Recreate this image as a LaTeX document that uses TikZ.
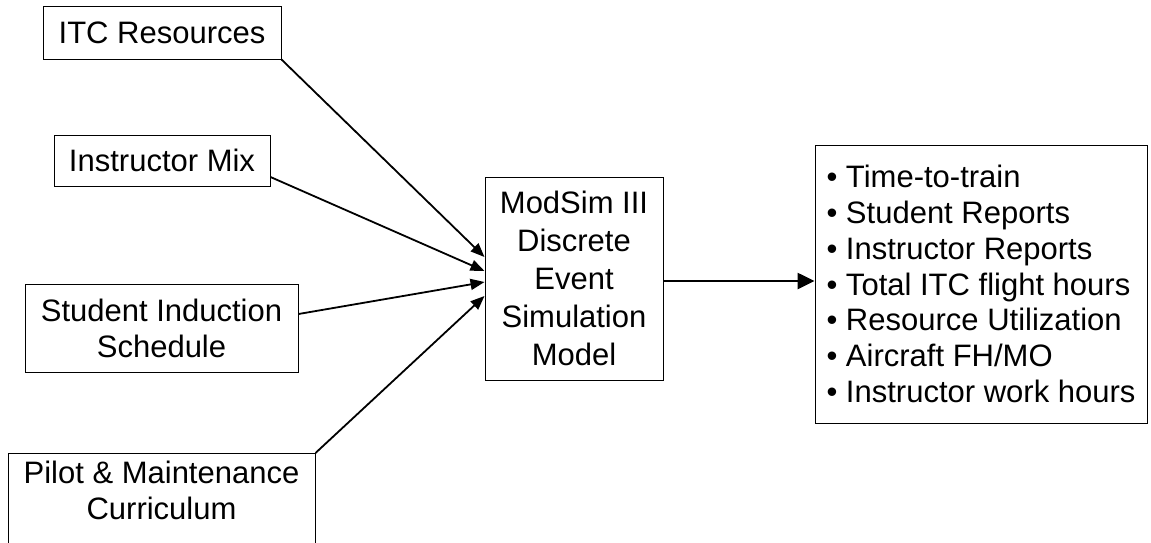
\documentclass[tikz,border=0pt]{standalone}
\usepackage{fontspec}
\setmainfont{Liberation Sans}
\usetikzlibrary{arrows.meta,calc}
\begin{document}
\begin{tikzpicture}[x=1pt,y=-1pt,
  box/.style={draw=black,line width=1pt,inner sep=0pt,align=center,
    font=\fontsize{31}{36}\selectfont},
  txt/.style={inner sep=0pt,align=center,font=\fontsize{31}{36}\selectfont},
  inarrow/.style={line width=1.8pt,-{Triangle[length=14pt,width=11pt]}},
  outarrow/.style={line width=2.6pt,-{Triangle[length=17pt,width=16pt]}}]
\useasboundingbox (0,0) rectangle (1151,542);
\node[box,minimum width=238pt,minimum height=53pt] (itc) at (162,32.5) {ITC Resources};
\node[box,minimum width=216pt,minimum height=51pt] (mix) at (162,160.5) {Instructor Mix};
\node[box,minimum width=273pt,minimum height=88pt] (student) at (161.5,328) {Student Induction\\Schedule};
\node[box,minimum width=307pt,minimum height=100pt,anchor=north] (pilot) at (161.5,453) {};
\node[txt] (pilottxt) at (161.5,490) {Pilot \& Maintenance\\Curriculum};
\node[box,minimum width=178pt,minimum height=203pt,font=\fontsize{31}{38}\selectfont] (model) at (574,278.5)
  {ModSim III\\Discrete\\Event\\Simulation\\Model};
\node[box,minimum width=332pt,minimum height=278pt,align=left,font=\fontsize{31}{35.7}\selectfont] (out) at (981,284)
  {• Time-to-train\\• Student Reports\\• Instructor Reports\\• Total ITC flight hours\\• Resource Utilization\\• Aircraft FH/MO\\• Instructor work hours};
\draw[inarrow] (itc.south east) -- ([yshift=21.5pt]model.west);
\draw[inarrow] ([yshift=-16.5pt]mix.east) -- ([yshift=7.5pt]model.west);
\draw[inarrow] ([yshift=14pt]student.east) -- ([yshift=-3.5pt]model.west);
\draw[inarrow] (pilot.north east) -- ([yshift=-17.5pt]model.west);
\draw[outarrow] ([yshift=-2.5pt]model.east) -- ([yshift=-2.5pt]model.east -| out.west);
\end{tikzpicture}
\end{document}
